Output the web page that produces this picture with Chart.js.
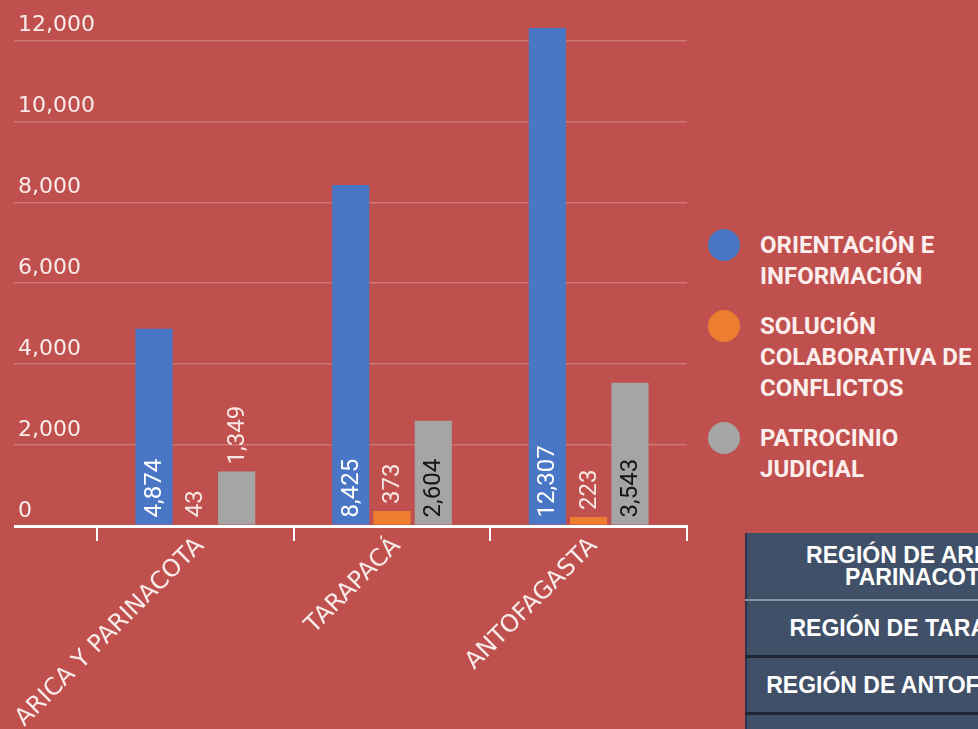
<!DOCTYPE html>
<html>
<head>
<meta charset="utf-8">
<script src="https://cdn.jsdelivr.net/npm/chart.js@4"></script>
<style>
  html, body { margin: 0; padding: 0; }
  body { width: 978px; height: 729px; overflow: hidden; background: #C0504D; position: relative; font-family: Roboto, sans-serif; }
  #chartBox { position: absolute; left: 0; top: 0; width: 690px; height: 729px; }
  #legend { position: absolute; left: 708px; top: 230px; width: 270px; }
  .item { position: relative; padding-left: 52px; margin-bottom: 19px; width: 226px;
          font: bold 24px/31px Roboto, sans-serif; color: #fbeeed; }
  .dot { position: absolute; left: 0; top: -1px; width: 32px; height: 32px; border-radius: 50%; }
  #tbl { position: absolute; left: 745px; top: 533px; width: 348px; border-collapse: collapse;
         font: bold 23px/22px "Liberation Sans", Arial, sans-serif; color: #ffffff; }
  #tbl td { background: #3F5068; text-align: center; padding: 0; border-left: 2px solid #2a3647; }
  #tbl tr.r1 td { height: 66px; border-bottom: 2px solid #8a94a2; }
  #tbl tr.r2 td { height: 54px; border-bottom: 3px solid #1e2633; }
  #tbl tr.r3 td { height: 54px; border-bottom: 3px solid #1e2633; }
  #tbl tr.r4 td { height: 40px; }
</style>
</head>
<body>
<div id="chartBox"><canvas id="c"></canvas></div>
<div id="legend"></div>
<table id="tbl"></table>
<script>
// ---- data ----
const categories = ['ARICA Y PARINACOTA', 'TARAPACÁ', 'ANTOFAGASTA'];
const seriesNames = ['ORIENTACIÓN E INFORMACIÓN', 'SOLUCIÓN COLABORATIVA DE CONFLICTOS', 'PATROCINIO JUDICIAL'];
const orientacion = [4874, 8425, 12307];
const solucion = [43, 373, 223];
const patrocinio = [1349, 2604, 3543];
const yTicks = [0, 2000, 4000, 6000, 8000, 10000, 12000];
const tableRows = ['REGIÓN DE ARICA Y PARINACOTA', 'REGIÓN DE TARAPACÁ', 'REGIÓN DE ANTOFAGASTA', ''];

// ---- styles ----
const seriesColors = ['#4A76C6', '#ED7D31', '#A5A5A5'];
const insideLabelColors = ['#ffffff', '#ffffff', '#151515'];
const outsideLabelColor = '#f8e6e3';
const textColor = '#f8ecea';

const seriesData = [orientacion, solucion, patrocinio];

const valueLabels = {
  id: 'valueLabels',
  afterDatasetsDraw(chart) {
    const ctx = chart.ctx;
    ctx.save();
    ctx.font = '24px Roboto';
    chart.data.datasets.forEach((ds, di) => {
      const meta = chart.getDatasetMeta(di);
      meta.data.forEach((bar, i) => {
        const v = ds.data[i];
        const text = v.toLocaleString('en-US');
        const w = ctx.measureText(text).width;
        const h = bar.base - bar.y;
        const inside = w + 14 <= h;
        const y0 = inside ? bar.base - 7 : bar.y - 7;
        ctx.save();
        ctx.translate(bar.x, y0);
        ctx.rotate(-Math.PI / 2);
        ctx.textAlign = 'left';
        ctx.textBaseline = 'middle';
        ctx.fillStyle = inside ? insideLabelColors[di] : outsideLabelColor;
        ctx.fillText(text, 0, 1);
        ctx.restore();
      });
    });
    ctx.restore();
  }
};

new Chart(document.getElementById('c'), {
  type: 'bar',
  data: {
    labels: categories,
    datasets: seriesNames.map((name, i) => ({
      label: name,
      data: seriesData[i],
      backgroundColor: seriesColors[i],
      borderWidth: 0,
      barPercentage: 0.9,
      categoryPercentage: 0.63
    }))
  },
  options: {
    responsive: true,
    maintainAspectRatio: false,
    animation: false,
    devicePixelRatio: 1,
    layout: { padding: { left: 18, top: 0, right: 3, bottom: 0 } },
    plugins: { legend: { display: false }, tooltip: { enabled: false } },
    scales: {
      x: {
        type: 'category',
        offset: true,
        grid: { offset: true, drawOnChartArea: false, drawTicks: true, tickLength: 15, color: '#ffffff', lineWidth: 2 },
        border: { display: true, color: '#ffffff', width: 3 },
        ticks: { color: textColor, font: { family: 'DejaVu Sans', size: 24 }, minRotation: 45, maxRotation: 45, autoSkip: false, padding: -9, labelOffset: 5 },
        afterFit: (s) => { s.height = 203; s.paddingLeft = 0; s.paddingRight = 0; }
      },
      y: {
        min: 0,
        max: 13000,
        afterBuildTicks: (s) => { s.ticks = yTicks.map(v => ({ value: v })); },
        grid: {
          color: (c) => (c.tick && c.tick.value === 0) ? '#ffffff' : 'rgba(255,255,255,0.22)',
          lineWidth: (c) => (c.tick && c.tick.value === 0) ? 3 : 1.5,
          drawTicks: true,
          tickLength: 83
        },
        border: { display: false },
        ticks: {
          color: textColor,
          font: { family: 'DejaVu Sans', size: 22 },
          crossAlign: 'far',
          labelOffset: -15,
          padding: 0,
          callback: (v) => Number(v).toLocaleString('en-US')
        },
        afterFit: (s) => { s.width = 79; s.paddingTop = 0; s.paddingBottom = 0; }
      }
    }
  },
  plugins: [valueLabels]
});

// legend
const legend = document.getElementById('legend');
seriesNames.forEach((name, i) => {
  const d = document.createElement('div');
  d.className = 'item';
  const dot = document.createElement('span');
  dot.className = 'dot';
  dot.style.background = seriesColors[i];
  d.appendChild(dot);
  d.appendChild(document.createTextNode(name));
  legend.appendChild(d);
});

// table
const tbl = document.getElementById('tbl');
tableRows.forEach((t, i) => {
  const tr = document.createElement('tr');
  tr.className = 'r' + (i + 1);
  const td = document.createElement('td');
  td.textContent = t;
  tr.appendChild(td);
  tbl.appendChild(tr);
});
</script>
</body>
</html>
